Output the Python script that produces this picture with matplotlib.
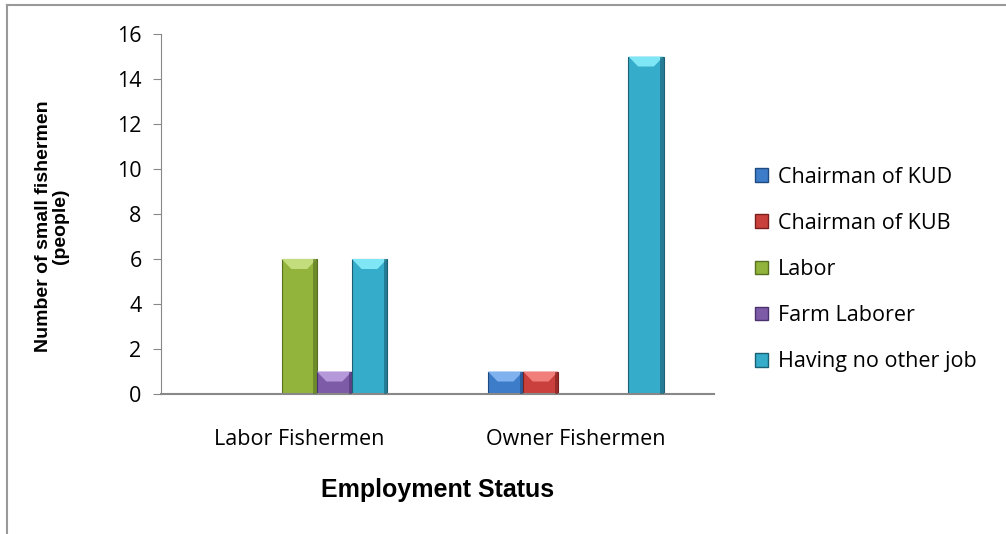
import numpy as np
import matplotlib.pyplot as plt
from matplotlib.patches import Polygon, Rectangle
from matplotlib.lines import Line2D

categories = ["Labor Fishermen", "Owner Fishermen"]
series = ["Chairman of KUD", "Chairman of KUB", "Labor", "Farm Laborer", "Having no other job"]
chairman_kud = [0, 1]
chairman_kub = [0, 1]
labor = [6, 0]
farm_laborer = [1, 0]
no_other_job = [6, 15]
values = [chairman_kud, chairman_kub, labor, farm_laborer, no_other_job]

colors = ["#3D7CC9", "#C9403C", "#92B43C", "#7D5BA6", "#35ACCA"]
tops = ["#7FB2EE", "#F07E7A", "#C4DD7C", "#B598DA", "#7FE6F6"]
edges = ["#1F4A80", "#7A1F1D", "#56701F", "#4A3270", "#1B5F72"]

fn = "Open Sans"
fig = plt.figure(figsize=(10.06, 5.34), dpi=100)
ax = fig.add_axes([161/1006, 1-394/534, 553/1006, 360/534])

x = np.arange(len(categories))
w = 0.127
ppu = 360/16.0  # pixels per data unit on y
for i, (vals, c) in enumerate(zip(values, colors)):
    xs = x + (i - 2) * w
    ax.bar(xs, vals, w, color=c, edgecolor=edges[i], linewidth=0.8, zorder=2)
    for xc, v in zip(xs, vals):
        if v <= 0:
            continue
        # bevel cap on top of the bar
        bev = 10/ppu
        bx = 0.035
        cap = Polygon([[xc-w/2, v], [xc+w/2, v], [xc+w/2-bx, v-bev], [xc-w/2+bx, v-bev]],
                      closed=True, facecolor=tops[i], edgecolor="none", zorder=3)
        ax.add_patch(cap)
        ax.add_patch(Rectangle((xc+w/2-0.012, 0), 0.012, v, facecolor=edges[i],
                               edgecolor="none", alpha=0.6, zorder=3))

ax.set_xlim(-0.5, 1.5)
ax.set_ylim(0, 16)
ax.set_yticks(range(0, 17, 2))
ax.set_xticks(x)
ax.set_xticklabels(categories, fontsize=15.5, fontname=fn)
ax.tick_params(axis="x", length=0, pad=25)
ax.tick_params(axis="y", length=6, color="#888888", labelsize=15.5, pad=8)
for lab in ax.get_yticklabels():
    lab.set_fontname(fn)
for s in ["top", "right"]:
    ax.spines[s].set_visible(False)
ax.spines["left"].set_color("#888888")
ax.spines["bottom"].set_color("#888888")
ax.spines["bottom"].set_linewidth(1.5)

ax.set_xlabel("Employment Status", fontsize=18, fontweight="bold", fontname="Liberation Sans", labelpad=20)
fig.text(52/1006, 1-226/534, "Number of small fishermen\n(people)", rotation=90, ha="center", va="center",
         fontsize=14, fontweight="bold", fontname="Liberation Sans", linespacing=1.0)

handles = [Rectangle((0, 0), 1, 1, facecolor=c, edgecolor=e) for c, e in zip(colors, edges)]
leg = fig.legend(handles, series, loc="upper left", bbox_to_anchor=(746/1006, 1-158/534), frameon=False,
                 prop={"family": fn, "size": 15.5}, labelspacing=1.17, handlelength=0.6, handleheight=0.6,
                 handletextpad=0.5, borderaxespad=0)

# chart area border (top and left)
fig.add_artist(Line2D([7/1006, 7/1006], [0, 1-5/534], transform=fig.transFigure, color="#999999", lw=1.5))
fig.add_artist(Line2D([7/1006, 1], [1-5/534, 1-5/534], transform=fig.transFigure, color="#999999", lw=1.5))

fig.savefig("out.png", dpi=100)
